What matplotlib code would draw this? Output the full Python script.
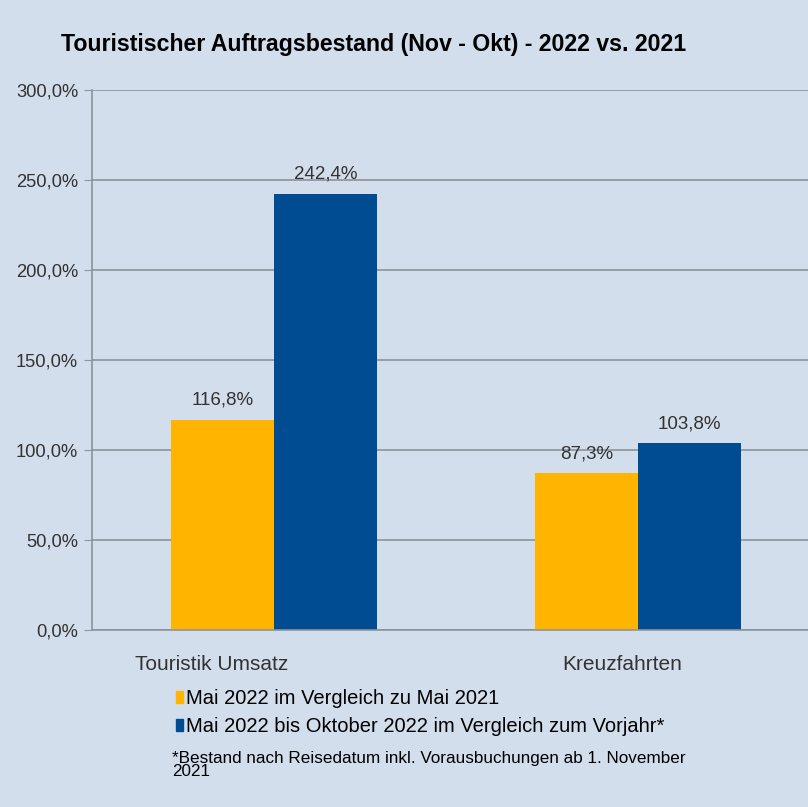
import matplotlib
matplotlib.use("Agg")
from matplotlib import pyplot as plt
from matplotlib.patches import Patch
import numpy as np

categories = ["Touristik Umsatz", "Kreuzfahrten"]
mai_vs_mai = [116.8, 87.3]
mai_okt_vs_vorjahr = [242.4, 103.8]
series_labels = ["Mai 2022 im Vergleich zu Mai 2021",
                 "Mai 2022 bis Oktober 2022 im Vergleich zum Vorjahr*"]
yticks = [0, 50, 100, 150, 200, 250, 300]

plt.rcParams["font.family"] = ["Liberation Sans", "DejaVu Sans"]

bg = "#d3deed"
orange = "#ffb400"
blue = "#004c93"
grid = "#8c949c"
txt = "#333333"

fig = plt.figure(figsize=(8.08, 8.07), dpi=100, facecolor=bg)
# plot area runs past the right edge, as in the original screenshot
ax = fig.add_axes([92 / 808, 177 / 807, 728 / 808, 540 / 807], facecolor=bg)

x = np.arange(len(categories))
w = 0.283
ax.bar(x - w / 2, mai_vs_mai, w, color=orange, zorder=2)
ax.bar(x + w / 2, mai_okt_vs_vorjahr, w, color=blue, zorder=2)

def fmt(v):
    return f"{v:.1f}%".replace(".", ",")

for xi, v in zip(x - w / 2, mai_vs_mai):
    ax.text(xi, v + 6, fmt(v), ha="center", va="bottom", fontsize=13.5, color=txt, zorder=3)
for xi, v in zip(x + w / 2, mai_okt_vs_vorjahr):
    ax.text(xi, v + 6, fmt(v), ha="center", va="bottom", fontsize=13.5, color=txt, zorder=3)

ax.set_xlim(-0.5, 1.5)
ax.set_ylim(0, 300)
ax.set_yticks(yticks)
ax.set_yticklabels([fmt(t) for t in yticks], fontsize=13.2, color=txt)
# category labels sit left of the bar groups in the original
ax.set_xticks([-0.17, 0.956])
ax.set_xticklabels(categories, fontsize=15, color=txt)
ax.tick_params(axis="x", length=0, pad=18)
ax.tick_params(axis="y", length=6, color=grid, pad=4)
ax.yaxis.grid(True, color=grid, linewidth=1.2, zorder=1)
for s in ["top", "right"]:
    ax.spines[s].set_visible(False)
for s in ["left", "bottom"]:
    ax.spines[s].set_color(grid)
    ax.spines[s].set_linewidth(1.2)

fig.text(61 / 808, 1 - 45 / 807, "Touristischer Auftragsbestand (Nov - Okt) - 2022 vs. 2021",
         fontsize=16.7, fontweight="bold", color="black", va="center", ha="left")

handles = [Patch(color=orange), Patch(color=blue)]
fig.legend(handles, series_labels, loc="upper left", bbox_to_anchor=(176 / 808, 1 - 689 / 807),
           frameon=False, fontsize=14.5, handlelength=0.35, handleheight=0.55,
           handletextpad=0.15, labelspacing=0.45, borderpad=0, borderaxespad=0,
           labelcolor="black")

fig.text(172 / 808, 1 - 765 / 807,
         "*Bestand nach Reisedatum inkl. Vorausbuchungen ab 1. November\n2021",
         fontsize=12.3, color="black", va="center", ha="left", linespacing=0.8)

fig.savefig("out.png", dpi=100, facecolor=bg)
